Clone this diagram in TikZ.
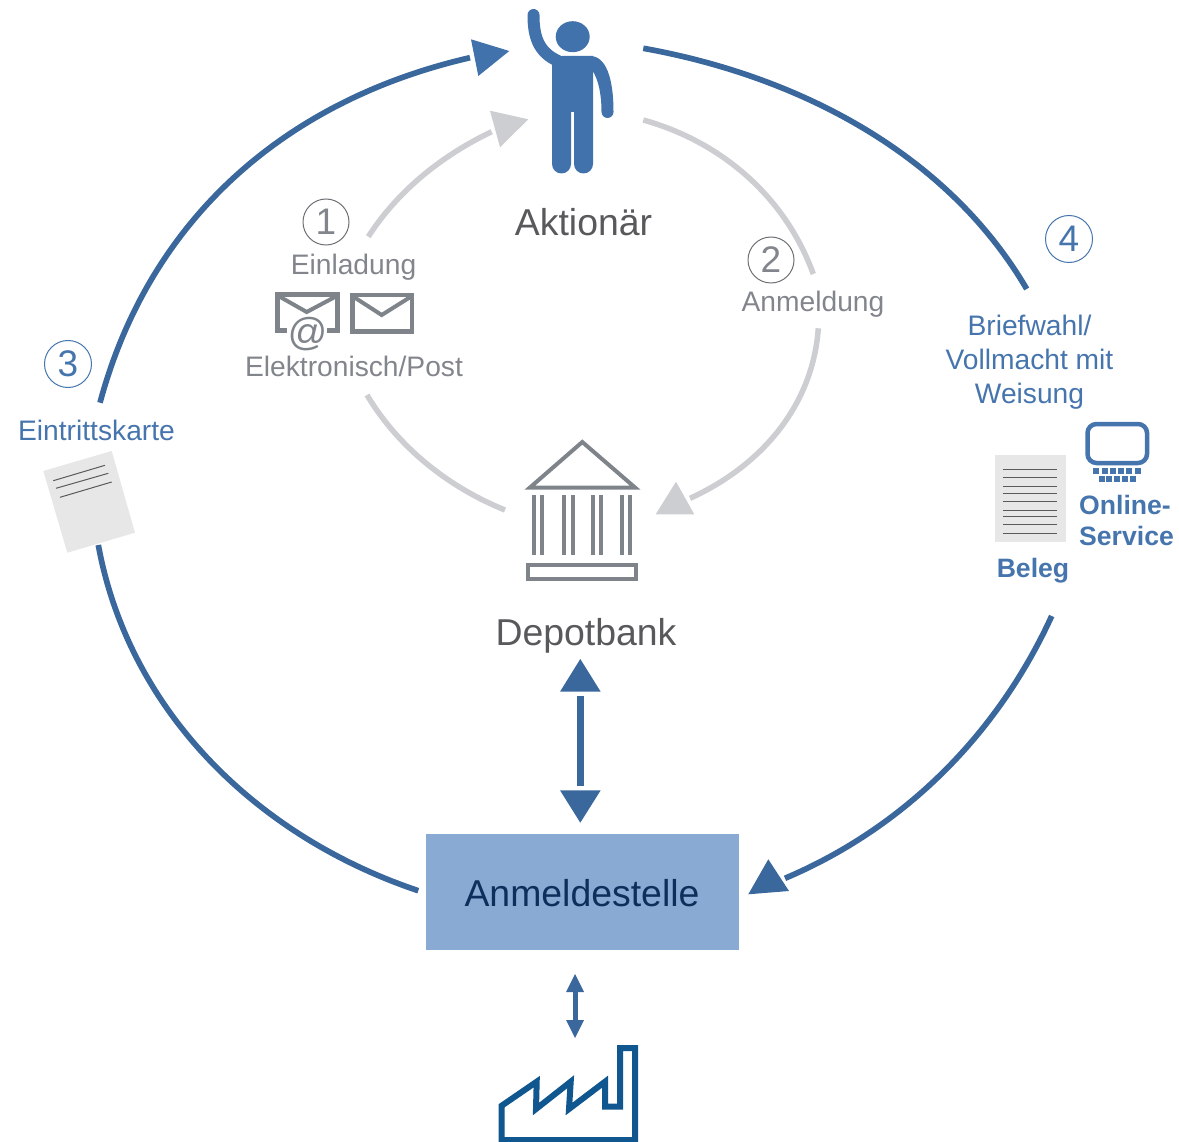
\documentclass[tikz,border=0pt]{standalone}
\usepackage{fontspec}
\setmainfont{Liberation Sans}
\definecolor{bl}{HTML}{3B689C}
\definecolor{btx}{HTML}{4675AD}
\definecolor{bfig}{HTML}{4272AB}
\definecolor{lg}{HTML}{CDCED2}
\definecolor{tg}{HTML}{82868C}
\definecolor{ic}{HTML}{7F848B}
\definecolor{cg}{HTML}{6E7074}
\definecolor{dk}{HTML}{58595B}
\definecolor{box}{HTML}{89ABD3}
\definecolor{navy}{HTML}{0E2F5C}
\definecolor{fac}{HTML}{10568F}
\definecolor{paper}{HTML}{E7E7E7}
\definecolor{rl}{HTML}{5A5A5A}
\tikzset{
 x=1pt,y=-1pt,
 bigarc/.style={draw=bl,line width=5.7pt},
 grayarc/.style={draw=lg,line width=5.5pt},
 big/.style={font=\fontsize{37.4}{37.4}\selectfont,anchor=base,inner sep=0pt},
 mid/.style={font=\fontsize{28.2}{28.2}\selectfont,anchor=base,inner sep=0pt},
 midb/.style={font=\fontsize{26.6}{26.6}\selectfont\bfseries,anchor=base,inner sep=0pt},
 numg/.style={circle,draw=cg,line width=1pt,minimum size=46pt,inner sep=0pt,text=tg,font=\fontsize{37}{37}\selectfont},
 numb/.style={circle,draw=btx,line width=1pt,minimum size=47pt,inner sep=0pt,text=btx,font=\fontsize{37}{37}\selectfont},
 iconline/.style={draw=ic,line width=4.5pt,miter limit=10},
}
\begin{document}
\begin{tikzpicture}
\useasboundingbox (0,0) rectangle (1179,1142);
% anchors of the cycle
\coordinate (b1s) at (470,57.7); \coordinate (b1e) at (100,402.7);
\coordinate (b2s) at (98.3,545); \coordinate (b2e) at (418.3,890.7);
\coordinate (b3s) at (1051.7,616); \coordinate (b3e) at (785,878.3);
\coordinate (b4s) at (643.3,48.3); \coordinate (b4e) at (1026.7,289);
\coordinate (g1s) at (368.3,236.7); \coordinate (g1e) at (491.7,131.7);
\coordinate (g2s) at (643.3,120); \coordinate (g2e) at (813.3,274);
\coordinate (g3s) at (818.3,328.3); \coordinate (g3e) at (690,498.3);
\coordinate (g4s) at (367,395); \coordinate (g4e) at (505,510);
% blue arcs
\draw[bigarc] (b1e) .. controls (149.4,219.2) and (285,100.3) .. (b1s);
\draw[bigarc] (b2s) .. controls (129,711.6) and (257,836.6) .. (b2e);
\draw[bigarc] (b3e) .. controls (904.6,827.6) and (997.6,734.2) .. (b3s);
\draw[bigarc] (b4s) .. controls (798,76) and (947,153) .. (b4e);
% grey arcs
\draw[grayarc] (g1s) .. controls (398,190.5) and (442.2,155.3) .. (g1e);
\draw[grayarc] (g2s) .. controls (722,142) and (785.3,197) .. (g2e);
\draw[grayarc] (g3s) .. controls (812.8,406) and (761,466) .. (g3e);
\draw[grayarc] (g4s) .. controls (398,447) and (448,487) .. (g4e);
% heads
\fill[bfig] (471,39.3) -- (509.3,51) -- (478.3,76) -- cycle;
\fill[lg] (490,110.7) -- (528.3,119.3) -- (500,147.3) -- cycle;
\fill[lg] (676,481.7) -- (655.7,514.3) -- (694.3,514.3) -- cycle;
\fill[bl] (768.3,859.3) -- (748.3,894.3) -- (789,891) -- cycle;
% person
\fill[bfig] (572.7,36.7) ellipse [x radius=17,y radius=15.5];
\draw[bfig,line width=12pt,line cap=round] (533.5,15) .. controls (533.5,36) and (538,52) .. (558,61);
\fill[bfig] (590,56) .. controls (606,56) and (613.5,78) .. (613.5,112)
  arc[start angle=0,end angle=180,radius=6] .. controls (601.5,96) and (599,80) .. (592,70) -- cycle;
\fill[bfig] (552,64) .. controls (556,58) and (558,56) .. (562,56) -- (593,56) -- (593,164)
  arc[start angle=0,end angle=180,radius=9.5] -- (574,112) -- (571,112) -- (571,164)
  arc[start angle=0,end angle=180,radius=9.5] -- cycle;
% bank
\draw[iconline,line width=4pt] (530,487.5) -- (582.3,442) -- (635,487.5) -- cycle;
\foreach \c in {534,542,564.3,572.7,593,601,621.7,630}
  \draw[ic,line width=4pt] (\c,495) -- (\c,555);
\draw[iconline,line width=4pt] (528,565) rectangle (636,579);
% envelopes
\draw[iconline] (352.3,295) rectangle (412,331.5);
\draw[iconline,line width=4pt] (352.3,296) -- (381.7,315) -- (412,296);
\draw[iconline] (286.7,330.4) -- (277.6,330.4) -- (277.6,294.3) -- (337.7,294.3) -- (337.7,330.4) -- (326.7,330.4);
\draw[iconline,line width=4pt] (277.6,295.5) -- (306.7,312) -- (337.7,295.5);
\node[inner sep=0pt,text=ic,font=\fontsize{39}{39}\selectfont\itshape] (at) at (307,334) {@};
% paper left
\fill[paper] (43.3,471) -- (111.7,451) -- (135,532.7) -- (67.3,552.7) -- cycle;
\draw[rl,line width=1pt] (53.3,480.7) -- (105,465.3) (56,488.3) -- (108.3,473.3) (60,497.3) -- (111.7,482);
% beleg
\fill[paper] (995,455) rectangle (1066,541.7);
\foreach \l in {469.3,477.3,486,493.3,501.3,510,516.7,524.3,533.3}
  \draw[rl,line width=1pt] (1003.3,\l) -- (1057.3,\l);
% monitor
\draw[btx,line width=4.5pt,rounded corners=9pt] (1087.5,424) rectangle (1147,463);
\foreach \k in {1093.3,1101.5,1109.8,1118,1126.2,1134.5}
  \fill[btx] (\k,468.3) rectangle ++(6,5.2);
\foreach \k in {1098.5,1106.3,1114,1122,1130}
  \fill[btx] (\k,476.2) rectangle ++(6,5.4);
% box
\node[fill=box,minimum width=313pt,minimum height=116pt,inner sep=0pt] (reg) at (582,892) {};
\node[big,text=navy] (regt) at (582,906) {Anmeldestelle};
% double arrows
\coordinate (da) at (580.3,695.7); \coordinate (db) at (580.3,786);
\draw[bl,line width=6.5pt] (da) -- (db);
\fill[bl] (580.3,659) -- (600.7,691.7) -- (560,691.7) -- cycle;
\fill[bl] (580.3,822.7) -- (600.7,790.3) -- (560,790.3) -- cycle;
\coordinate (sa) at (575,990); \coordinate (sb) at (575,1022);
\draw[bl,line width=5pt] (sa) -- (sb);
\fill[bl] (575,974) -- (584,992) -- (566,992) -- cycle;
\fill[bl] (575,1038) -- (584,1020) -- (566,1020) -- cycle;
% factory
\draw[fac,line width=6pt,miter limit=10] (501.7,1140) -- (501.7,1105.7) -- (536.7,1081.7) -- (536,1109) -- (570.7,1081.7) -- (569,1109) -- (605,1081.7) -- (605,1106.7) -- (620,1106.7) -- (620,1048) -- (635,1048) -- (635,1140) -- cycle;
% numbers
\node[numg] (n1) at (326,222) {1};
\node[numg] (n2) at (771,260) {2};
\node[numb] (n3) at (68,364) {3};
\node[numb] (n4) at (1069,239) {4};
% labels
\node[big,text=dk] (akt) at (583.5,236) {Aktionär};
\node[big,text=dk] (dep) at (586,645) {Depotbank};
\node[mid,text=tg] (ein) at (353.5,275) {Einladung};
\node[mid,text=tg] (ele) at (354,377) {Elektronisch/Post};
\node[mid,text=tg] (anm) at (813,312) {Anmeldung};
\node[mid,text=btx] (eint) at (96.5,440) {Eintrittskarte};
\node[mid,text=btx] (bw1) at (1029.5,336) {Briefwahl/};
\node[mid,text=btx] (bw2) at (1029.5,369) {Vollmacht mit};
\node[mid,text=btx] (bw3) at (1029.5,403) {Weisung};
\node[midb,text=btx,anchor=base west] (on1) at (1079,514) {Online-};
\node[midb,text=btx,anchor=base west] (on2) at (1079,545) {Service};
\node[midb,text=btx] (bel) at (1033,577) {Beleg};
\end{tikzpicture}
\end{document}
